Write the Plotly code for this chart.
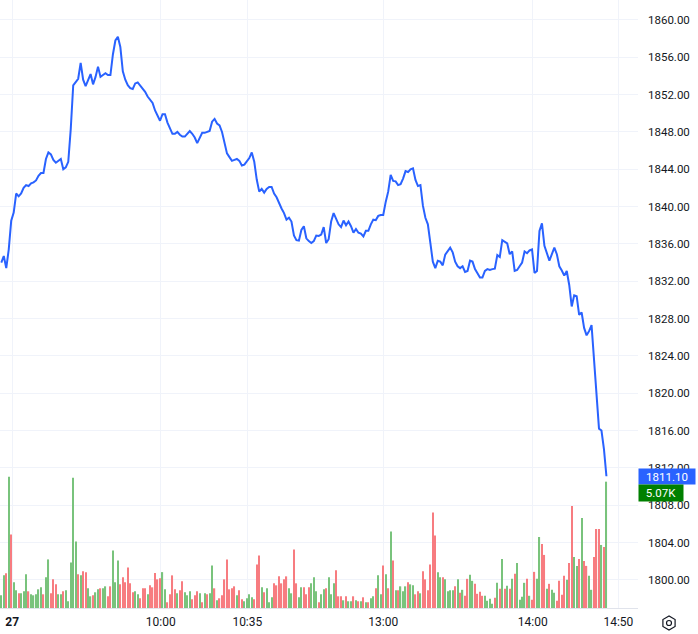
import plotly.graph_objects as go

# ---------------- data ----------------
prices = [
    1834.0, 1834.7, 1833.4, 1835.4, 1838.5, 1839.35, 1841.4, 1841.1, 1841.4, 1842.0,
    1842.3, 1842.2, 1842.5, 1842.6, 1842.8, 1843.3, 1843.6, 1843.6, 1845.1, 1845.8,
    1845.6, 1845.0, 1844.7, 1844.9, 1845.1, 1844.0, 1844.2, 1844.8, 1848.3, 1853.0,
    1853.3, 1853.7, 1855.4, 1853.6, 1852.9, 1853.6, 1854.2, 1853.1, 1853.9, 1855.0,
    1853.9, 1854.1, 1854.3, 1854.1, 1854.1, 1856.3, 1857.8, 1858.2, 1857.1, 1854.5,
    1853.6, 1853.0, 1852.7, 1852.6, 1853.2, 1853.3, 1853.0, 1852.6, 1852.3, 1851.8,
    1851.5, 1851.1, 1850.3, 1849.7, 1849.2, 1849.9, 1849.9, 1849.0, 1848.3, 1847.8,
    1847.8, 1848.0, 1847.7, 1847.5, 1847.5,
    1847.8, 1848.1, 1847.8, 1847.4, 1846.8, 1847.4, 1847.9, 1847.9, 1848.0, 1848.1,
    1849.1, 1849.4, 1848.9, 1848.7, 1848.0, 1846.7, 1845.7, 1845.3, 1844.9, 1845.0,
    1845.1, 1844.9, 1844.4, 1844.5, 1844.9, 1845.2, 1845.8, 1844.8, 1842.9, 1841.6,
    1841.9, 1841.5, 1841.9, 1842.1, 1842.1, 1841.4, 1841.0, 1840.3, 1839.8, 1839.3,
    1838.6, 1838.8, 1838.4, 1836.9, 1836.4, 1836.35, 1837.5, 1837.9, 1836.6, 1836.3,
    1836.1, 1836.3, 1836.9, 1836.85, 1837.0, 1837.8, 1836.1, 1836.5, 1838.4, 1839.3,
    1838.7, 1838.1, 1837.8, 1838.5, 1838.0, 1838.4, 1837.9, 1837.2, 1837.6, 1837.2,
    1837.1, 1836.8, 1837.4, 1837.4, 1838.1, 1838.6, 1838.55, 1839.0, 1839.1, 1839.1,
    1840.5, 1841.6, 1843.4, 1842.75, 1842.7, 1842.3, 1842.4, 1843.0, 1843.8, 1843.7,
    1844.0, 1844.1, 1842.85, 1842.2, 1842.3, 1840.1, 1838.8, 1838.1, 1836.1, 1834.1,
    1833.4, 1834.2, 1834.1, 1833.7, 1834.85, 1835.3, 1835.6, 1835.1, 1834.1, 1833.6,
    1833.4, 1833.6, 1833.0, 1833.1, 1834.2, 1834.1, 1833.3, 1832.85, 1832.4, 1832.4,
    1833.1, 1833.3, 1833.2, 1833.3,
    1833.35, 1834.8, 1834.6, 1836.4, 1836.2, 1836.05, 1834.9, 1835.2, 1833.1, 1833.2,
    1833.6, 1834.0, 1835.2, 1835.0, 1835.3, 1835.4, 1832.9, 1833.1, 1837.4, 1838.2,
    1835.8, 1835.1, 1834.2, 1834.9, 1835.6, 1834.9, 1833.6, 1833.15, 1832.6, 1833.1,
    1831.6, 1829.3, 1830.5, 1830.4, 1828.4, 1828.65, 1827.0, 1826.2, 1826.65, 1827.3,
    1823.9, 1819.6, 1816.2, 1816.0, 1814.0, 1811.1,
]

volumes = [
    510, 1310, 1390, 5270, 2950, 1030, 710, 590, 590, 670,
    1350, 670, 550, 510, 550, 750, 830, 550, 1230, 1950,
    590, 1150, 950, 550, 550, 670, 710, 270, 1830, 5230,
    2670, 1350, 1310, 1470, 1430, 790, 470, 510, 630, 750,
    790, 790, 870, 470, 870, 2310, 1030, 1910, 950, 1230,
    1030, 1630, 990, 630, 670, 550, 390, 790, 790, 550,
    910, 830, 1400, 1150, 1190, 1440, 750, 230, 550, 1310,
    750, 590, 710, 1070, 630, 510, 670, 350, 510, 670,
    590, 230, 590, 550, 590, 1710, 790, 310, 390, 510,
    1150, 1950, 750, 790, 870, 510, 710, 350, 270, 390,
    550, 430, 350, 1750, 2110, 830, 630, 790, 230, 430,
    990, 910, 1270, 990, 1150, 1270, 790, 590, 2350, 990,
    430, 830, 830, 550, 830, 990, 1230, 670, 230, 550,
    750, 790, 1230, 550, 990, 1510, 470, 470, 310, 470,
    270, 270, 470, 310, 270, 270, 430, 230, 230, 390,
    470, 790, 1310, 550, 1710, 1350, 790, 3070, 1910, 710,
    710, 870, 670, 870, 1030, 950, 910, 550, 670, 590,
    1470, 1150, 710, 1750, 3830, 2910, 1430, 1230, 1230, 1150,
    670, 710, 710, 870, 1150, 610, 730, 490, 1170, 1330,
    1090, 970, 570, 650, 490, 490, 290, 370, 170, 410,
    1010, 770, 1970, 770, 890, 770, 1170, 1370, 1810, 330,
    450, 1010, 1170, 490, 330, 1450, 1170, 2850, 2570, 2130,
    770, 970, 730, 610, 290, 1090, 530, 1290, 1130, 1810,
    4090, 2050, 1690, 1970, 3610, 1890, 1690, 1290, 730, 2050,
    3170, 3170, 2530, 2450, 5070,
]

# 'u' = green volume bar, 'd' = red volume bar (one letter per bar)
directions = list(
    "uududuuduu" "uduuuuuduu" "ddduuduuuu" "ududduuduu" "duudduuudd"
    "dddduudddu" "ddddduuddd" "dudduuuddd" "ududuududd" "dddddudduu"
    "uuddduduuu" "dddddduudd" "uuddduuudu" "uduuudddud" "uududududu"
    "uduudududu" "duuuduuddu" "dddddduudu" "uuudududdu" "udddduuuud"
    "ududududuu" "uududduudd" "uduuddddud" "duududduud" "ddudu"
)

time_ticks = [4.4, 64.3, 99.2, 154.0, 214.3, 248.8]
time_labels = ["<b>27</b>", "10:00", "10:35", "13:00", "14:00", "14:50"]

price_range = [1796.98, 1862.14]
volume_range = [0, 24400]

# ---------------- figure ----------------
n = len(prices)
idx = list(range(n))
UP, DOWN = "#79c37c", "#f77c80"
bar_colors = [UP if d == "u" else DOWN for d in directions[:n]]

font_family = "Roboto"
text_color = "#131722"
grid_color = "#f0f3fa"

fig = go.Figure()
fig.add_trace(go.Bar(
    x=idx, y=volumes[:n], yaxis="y2", width=0.5,
    marker=dict(color=bar_colors, line=dict(width=0)),
    hoverinfo="skip",
))
fig.add_trace(go.Scatter(
    x=idx, y=prices, mode="lines",
    line=dict(color="#2962FF", width=2),
    hoverinfo="skip",
))

last_price = prices[-1]
last_vol = volumes[n - 1]

fig.update_layout(
    width=698, height=634,
    margin=dict(l=0, r=60, t=0, b=26),
    paper_bgcolor="white", plot_bgcolor="white",
    showlegend=False,
    font=dict(family=font_family, size=12, color=text_color),
    xaxis=dict(
        range=[-0.524, 256.73],
        tickvals=time_ticks, ticktext=time_labels,
        showgrid=True, gridcolor=grid_color, gridwidth=1,
        zeroline=False, showline=True, linecolor="#e0e3eb", linewidth=1,
        ticks="", ticklabelstandoff=3, automargin=False,
        tickfont=dict(family=font_family, size=12, color=text_color),
    ),
    yaxis=dict(
        side="right", range=price_range,
        tick0=1800, dtick=4, tickformat=".2f",
        showgrid=True, gridcolor=grid_color, gridwidth=1,
        zeroline=False, showline=False,
        ticks="", ticklabelstandoff=9, automargin=False,
        tickfont=dict(family=font_family, size=11.5, color=text_color),
    ),
    yaxis2=dict(
        overlaying="y", range=volume_range, visible=False,
        showgrid=False, zeroline=False,
    ),
    annotations=[
        dict(
            xref="paper", x=1, xanchor="left",
            yref="y", y=last_price, yanchor="middle",
            text=f"{last_price:.2f}", showarrow=False,
            font=dict(family=font_family, size=11.5, color="white"),
            bgcolor="#2962FF", width=52, height=11, borderpad=2, align="center",
        ),
        dict(
            xref="paper", x=1, xanchor="left",
            yref="y", y=last_price, yanchor="middle", yshift=-17,
            text=f"{last_vol / 1000:.2f}K", showarrow=False,
            font=dict(family=font_family, size=11.5, color="white"),
            bgcolor="#008000", width=40, height=12, borderpad=2, align="center",
        ),
    ],
)

# settings icon (hexagon with a circle) in the bottom-right corner
def px_to_paper(px, py):
    return px / 638.0, (608.0 - py) / 608.0

hex_pts = [(669, 616), (662.9, 619.5), (662.9, 626.5), (669, 630), (675.1, 626.5), (675.1, 619.5)]
path = "M " + " L ".join(f"{px_to_paper(a, b)[0]:.5f},{px_to_paper(a, b)[1]:.5f}" for a, b in hex_pts) + " Z"
fig.add_shape(type="path", xref="paper", yref="paper", path=path,
              line=dict(color=text_color, width=1.2))
c0 = px_to_paper(666.5, 620.5)
c1 = px_to_paper(671.5, 625.5)
fig.add_shape(type="circle", xref="paper", yref="paper",
              x0=c0[0], y0=c1[1], x1=c1[0], y1=c0[1],
              line=dict(color=text_color, width=1.2))

fig.write_html(
    "out.html",
    config={"displayModeBar": False},
    post_script="document.body.style.margin='0px';document.body.style.padding='0px';",
)
